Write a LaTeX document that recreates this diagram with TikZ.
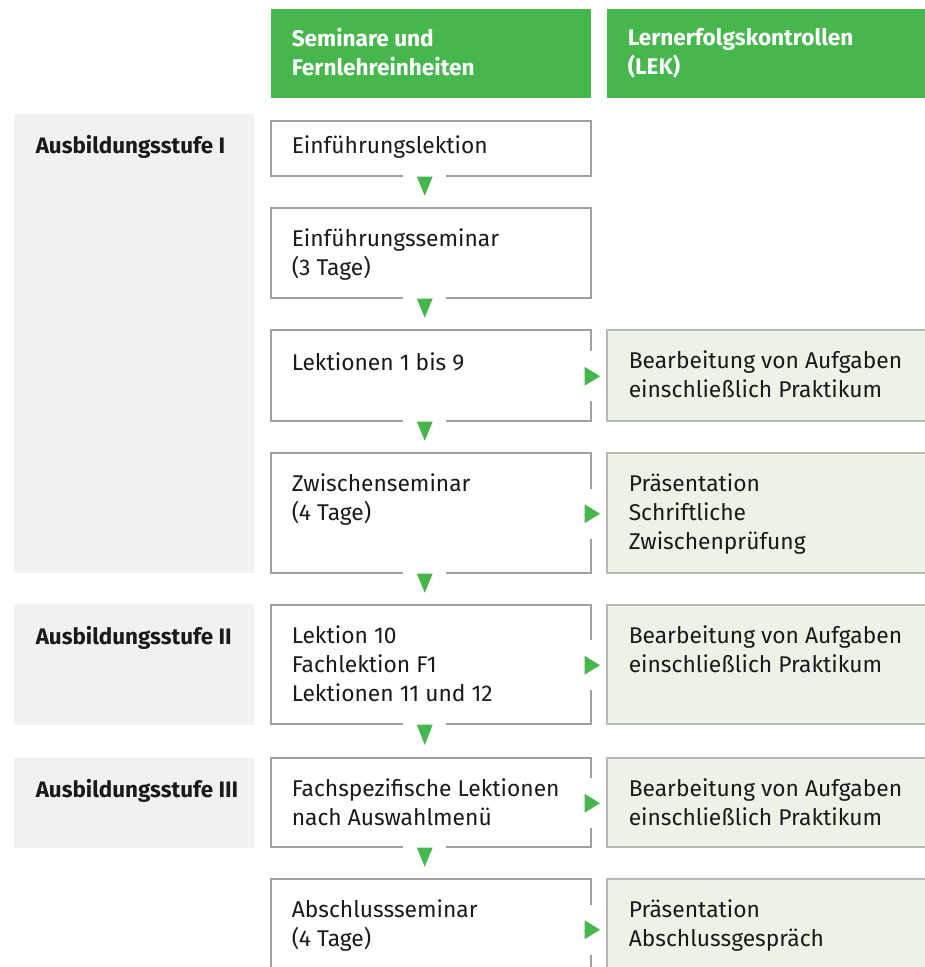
\documentclass[tikz,border=0pt]{standalone}
\usepackage{fontspec}
\setmainfont{Fira Sans}
\usetikzlibrary{calc}
\definecolor{headgreen}{RGB}{70,183,76}
\definecolor{lekgreen}{RGB}{234,243,230}
\definecolor{bandgray}{RGB}{241,241,241}
\definecolor{boxgray}{RGB}{160,160,160}
\definecolor{textblack}{RGB}{26,26,26}
\tikzset{every picture/.style={line width=1.5pt}}
\tikzset{
    headbox/.style={fill=headgreen,inner sep=0pt,anchor=north west,minimum width=320pt,minimum height=89pt},
    stageband/.style={fill=bandgray,inner sep=0pt,anchor=north west,minimum width=240pt},
    sembox/.style={draw=boxgray,fill=white,inner sep=0pt,anchor=north west,minimum width=320pt},
    lekbox/.style={draw=boxgray!75,fill=lekgreen,inner sep=0pt,anchor=north west,minimum width=330pt},
    txt/.style={anchor=north west,inner sep=0pt,align=left,text=textblack,
        font=\fontsize{22.8}{29}\selectfont,execute at begin node=\strut},
    headtxt/.style={txt,text=white,font=\fontsize{22.6}{29}\selectfont\bfseries},
    stagetxt/.style={txt,font=\fontsize{22.4}{29}\selectfont\bfseries}
}

\begin{document}
\begin{tikzpicture}[x=1pt,y=-1pt]
    \useasboundingbox (0,0) rectangle (925,967);

    % column heads
    \node[headbox] (hsem) at (270,8) {};
    \node[headbox,minimum width=330pt] (hlek) at (606,8) {};
    \node[headtxt] (hsemtxt) at ($(hsem.north west)+(21,19.7)$) {Seminare und\\Fernlehreinheiten};
    \node[headtxt] (hlektxt) at ($(hlek.north west)+(21,19.7)$) {Lernerfolgskontrollen\\(LEK)};

    % stages
    \node[stageband,minimum height=459pt] (st1) at (13,113) {};
    \node[stageband,minimum height=121pt] (st2) at (13,603) {};
    \node[stageband,minimum height=90pt] (st3) at (13,757) {};
    \node[stagetxt] (st1txt) at ($(st1.north west)+(22,19.7)$) {Ausbildungsstufe I};
    \node[stagetxt] (st2txt) at ($(st2.north west)+(22,20.7)$) {Ausbildungsstufe II};
    \node[stagetxt] (st3txt) at ($(st3.north west)+(22,19.7)$) {Ausbildungsstufe III};

    % seminars and distance units
    \node[sembox,minimum height=55pt] (s1) at (270,120) {};
    \node[sembox,minimum height=90pt] (s2) at (270,207) {};
    \node[sembox,minimum height=91pt] (s3) at (270,329) {};
    \node[sembox,minimum height=120pt] (s4) at (270,452) {};
    \node[sembox,minimum height=119pt] (s5) at (270,604) {};
    \node[sembox,minimum height=89pt] (s6) at (270,757) {};
    \node[sembox,minimum height=100pt] (s7) at (270,878) {};

    % learning checks
    \node[lekbox,minimum height=91pt] (l3) at (606,329) {};
    \node[lekbox,minimum height=120pt] (l4) at (606,452) {};
    \node[lekbox,minimum height=119pt] (l5) at (606,604) {};
    \node[lekbox,minimum height=89pt] (l6) at (606,757) {};
    \node[lekbox,minimum height=100pt] (l7) at (606,878) {};

    \node[txt] (s1txt) at ($(s1.north west)+(21,12.7)$) {Einführungslektion};
    \node[txt] (s2txt) at ($(s2.north west)+(21,20.7)$) {Einführungsseminar\\(3 Tage)};
    \node[txt] (s3txt) at ($(s3.north west)+(21,20.7)$) {Lektionen 1 bis 9};
    \node[txt] (s4txt) at ($(s4.north west)+(21,20.7)$) {Zwischenseminar\\(4 Tage)};
    \node[txt] (s5txt) at ($(s5.north west)+(21,20.7)$) {Lektion 10\\Fachlektion F1\\Lektionen 11 und 12};
    \node[txt] (s6txt) at ($(s6.north west)+(21,20.7)$) {Fachspezifische Lektionen\\nach Auswahlmenü};
    \node[txt] (s7txt) at ($(s7.north west)+(21,20.7)$) {Abschlussseminar\\(4 Tage)};

    \node[txt] (l3txt) at ($(l3.north west)+(22,20.7)$) {Bearbeitung von Aufgaben\\einschließlich Praktikum};
    \node[txt] (l4txt) at ($(l4.north west)+(22,20.7)$) {Präsentation\\Schriftliche\\Zwischenprüfung};
    \node[txt] (l5txt) at ($(l5.north west)+(22,20.7)$) {Bearbeitung von Aufgaben\\einschließlich Praktikum};
    \node[txt] (l6txt) at ($(l6.north west)+(22,20.7)$) {Bearbeitung von Aufgaben\\einschließlich Praktikum};
    \node[txt] (l7txt) at ($(l7.north west)+(22,20.7)$) {Präsentation\\Abschlussgespräch};

    % arrows down
    \foreach \a/\b in {s1/s2,s2/s3,s3/s4,s4/s5,s5/s6,s6/s7} {
        \fill[white] ($(\a.south)+(-28,-3)$) rectangle ($(\a.south)+(15,3)$);
        \fill[headgreen] ($(\a.south)+(-14,0)$) -- ($(\a.south)+(2,0)$)
            -- ($(\a.south)!0.63!(\b.north)+(-6,0)$) -- cycle;
    }
    % arrows right
    \foreach \a/\b in {s3/l3,s4/l4,s5/l5,s6/l6,s7/l7} {
        \fill[white] ($(\a.east)+(-4,-24)$) rectangle ($(\a.east)+(4,26)$);
        \fill[headgreen] ($(\a.east)+(-7,-8.5)$) -- ($(\a.east)+(-7,10.5)$)
            -- ($(\b.west)+(-6,1)$) -- cycle;
    }
\end{tikzpicture}
\end{document}
